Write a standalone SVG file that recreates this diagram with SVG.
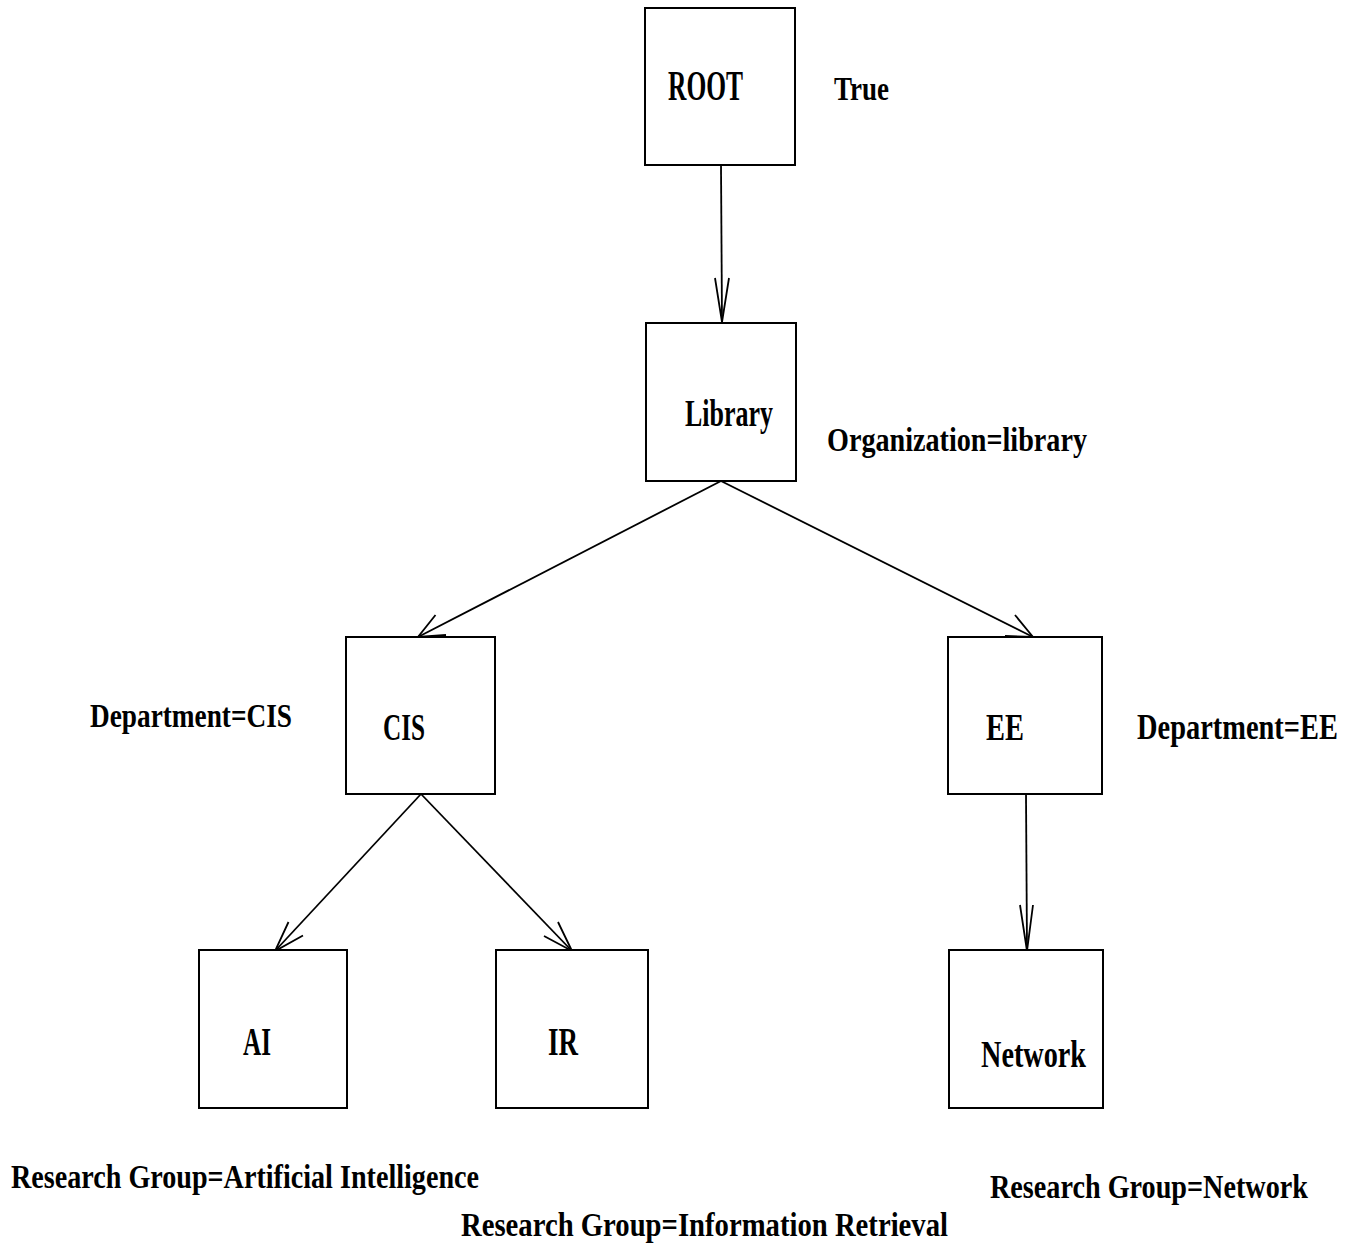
<svg xmlns="http://www.w3.org/2000/svg" width="1355" height="1250" viewBox="0 0 1355 1250">
<style>
.box{fill:#fff;stroke:#000;stroke-width:2}
.edge{fill:none;stroke:#000;stroke-width:1.8}
.head{fill:none;stroke:#000;stroke-width:1.8;stroke-linejoin:miter}
text{font-family:"Liberation Serif","Times New Roman",serif;font-weight:bold;fill:#000}
</style>
<rect width="1355" height="1250" fill="#fff"/>
<g id="connectors">
<line class="edge" x1="721" y1="165" x2="722" y2="322"/>
<polyline class="head" points="715,278 722,322 729,278"/>
<line class="edge" x1="721" y1="481" x2="418" y2="637"/>
<polyline class="head" points="435.5,615 418,637 446,635"/>
<line class="edge" x1="721" y1="481" x2="1033" y2="637"/>
<polyline class="head" points="1015,615 1033,637 1005,636"/>
<line class="edge" x1="421" y1="794" x2="275" y2="951"/>
<polyline class="head" points="288.5,922 275,951 303,935.5"/>
<line class="edge" x1="421" y1="794" x2="572" y2="951"/>
<polyline class="head" points="558,922 572,951 544,936"/>
<line class="edge" x1="1026" y1="794" x2="1027" y2="951"/>
<polyline class="head" points="1020,905 1027,951 1033,905"/>
</g>
<g id="root">
<rect class="box" x="645" y="8" width="150" height="157"/>
<text x="668" y="100" font-size="42" textLength="75" lengthAdjust="spacingAndGlyphs">ROOT</text>
<text x="834" y="100" font-size="34" textLength="55" lengthAdjust="spacingAndGlyphs">True</text>
</g>
<g id="library">
<rect class="box" x="646" y="323" width="150" height="158"/>
<text x="685" y="426" font-size="38" textLength="88" lengthAdjust="spacingAndGlyphs">Library</text>
<text x="827" y="451" font-size="34" textLength="260" lengthAdjust="spacingAndGlyphs">Organization=library</text>
</g>
<g id="cis">
<rect class="box" x="346" y="637" width="149" height="157"/>
<text x="383" y="740" font-size="38" textLength="42" lengthAdjust="spacingAndGlyphs">CIS</text>
<text x="90" y="727" font-size="34" textLength="202" lengthAdjust="spacingAndGlyphs">Department=CIS</text>
</g>
<g id="ee">
<rect class="box" x="948" y="637" width="154" height="157"/>
<text x="986" y="740" font-size="38" textLength="38" lengthAdjust="spacingAndGlyphs">EE</text>
<text transform="translate(1137,739) scale(0.81,1)" x="0" y="0" font-size="35" textLength="248" lengthAdjust="spacingAndGlyphs">Department=EE</text>
</g>
<g id="ai">
<rect class="box" x="199" y="950" width="148" height="158"/>
<text x="243" y="1055" font-size="40" textLength="28" lengthAdjust="spacingAndGlyphs">AI</text>
<text x="11" y="1188" font-size="34" textLength="468" lengthAdjust="spacingAndGlyphs">Research Group=Artificial Intelligence</text>
</g>
<g id="ir">
<rect class="box" x="496" y="950" width="152" height="158"/>
<text x="548" y="1055" font-size="40" textLength="30" lengthAdjust="spacingAndGlyphs">IR</text>
<text x="461" y="1236" font-size="34" textLength="487" lengthAdjust="spacingAndGlyphs">Research Group=Information Retrieval</text>
</g>
<g id="network">
<rect class="box" x="949" y="950" width="154" height="158"/>
<text x="981" y="1067" font-size="37" textLength="105" lengthAdjust="spacingAndGlyphs">Network</text>
<text transform="translate(990,1198) scale(0.826,1)" x="0" y="0" font-size="34" textLength="385" lengthAdjust="spacingAndGlyphs">Research Group=Network</text>
</g>
</svg>
